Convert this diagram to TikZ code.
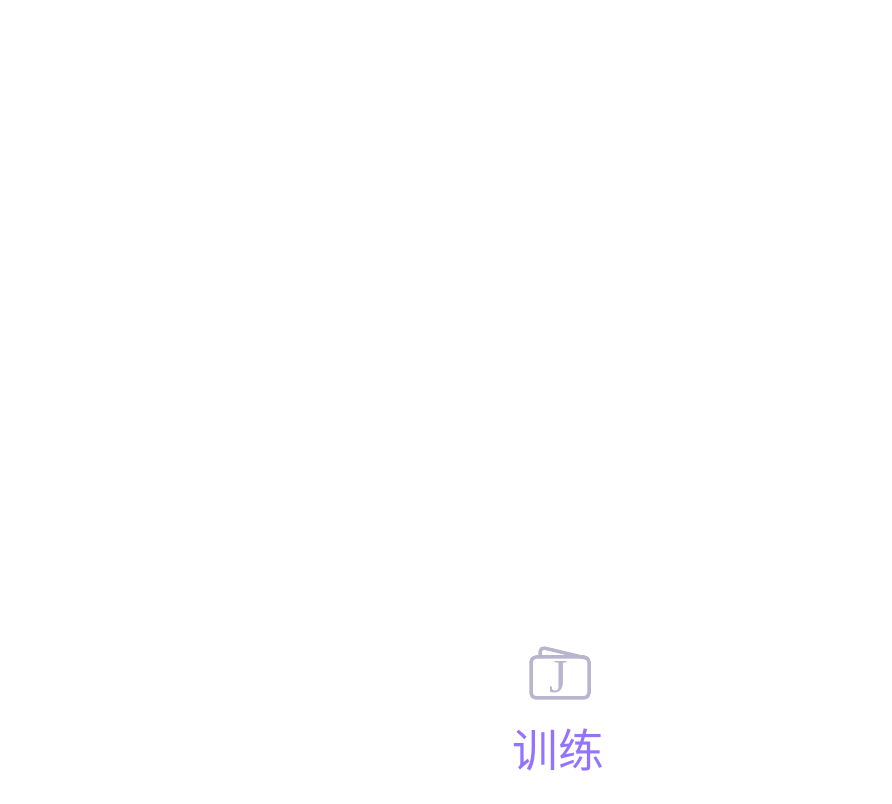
\documentclass[tikz,border=0pt]{standalone}
\usepackage{xcolor}
\usepackage{fontspec}
\setmainfont{Liberation Serif}
\newfontfamily\cjk{Noto Sans CJK SC}
\definecolor{iconGray}{HTML}{B9B5CE}
\definecolor{labelPurple}{HTML}{9374FF}
\usetikzlibrary{positioning}

\begin{document}
\begin{tikzpicture}[x=0.02cm, y=0.02cm]
    \tikzset{iconline/.style={draw=iconGray, line width=0.07cm, line join=round, line cap=round}}
    \useasboundingbox (0,0) rectangle (892,804);

    % Card icon
    \draw[iconline, rounded corners=0.1cm] (540,147) -- (540,157) -- (586,146);
    \draw[iconline, rounded corners=0.1cm] (531,106) rectangle (589,147);
    \node[inner sep=0pt, text=iconGray, font=\fontsize{27}{27}\selectfont] (cardLetter) at (559,127) {J};

    % Label
    \node[inner sep=0pt, text=labelPurple, font=\cjk\fontsize{26}{26}\selectfont] (trainLabel) at (558.5,54) {训练};
\end{tikzpicture}
\end{document}
